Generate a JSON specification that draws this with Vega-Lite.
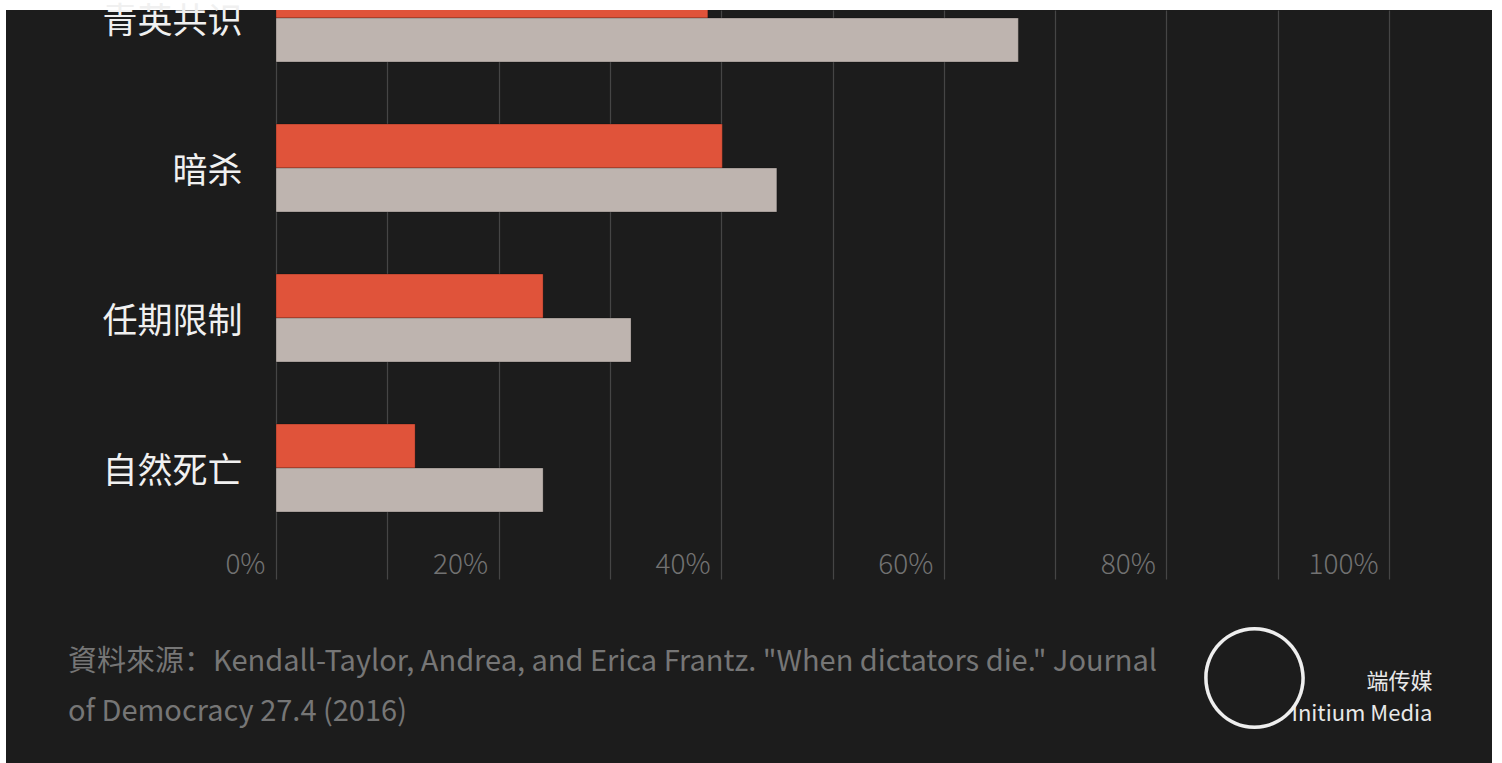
{
  "$schema": "https://vega.github.io/schema/vega-lite/v6.json",
  "width": 1486,
  "height": 753,
  "autosize": {"type": "none"},
  "padding": {"left": 6, "top": 10, "right": 10, "bottom": 0},
  "background": "#ffffff",
  "config": {
    "view": {"fill": "#1c1c1c", "stroke": null},
    "font": "Noto Sans CJK SC"
  },
  "title": {
    "text": ["資料來源：Kendall-Taylor, Andrea, and Erica Frantz. \"When dictators die.\" Journal", "of Democracy 27.4 (2016)"],
    "orient": "top",
    "anchor": "start",
    "frame": "group",
    "baseline": "top",
    "offset": 0,
    "dx": 62,
    "dy": 722,
    "font": "Noto Sans CJK SC",
    "fontSize": 29,
    "fontWeight": "normal",
    "color": "#767676",
    "lineHeight": 50
  },
  "data": {
    "values": [
      {"cause": "青英共识", "series": "A", "pct": 38.8},
      {"cause": "青英共识", "series": "B", "pct": 66.7},
      {"cause": "暗杀", "series": "A", "pct": 40.1},
      {"cause": "暗杀", "series": "B", "pct": 45.0},
      {"cause": "任期限制", "series": "A", "pct": 24.0},
      {"cause": "任期限制", "series": "B", "pct": 31.9},
      {"cause": "自然死亡", "series": "A", "pct": 12.5},
      {"cause": "自然死亡", "series": "B", "pct": 24.0}
    ]
  },
  "mark": {"type": "bar", "clip": true, "strokeWidth": 1, "stroke": "#000000", "strokeOpacity": 0.25},
  "encoding": {
    "y": {
      "field": "cause",
      "type": "nominal",
      "sort": ["青英共识", "暗杀", "任期限制", "自然死亡"],
      "scale": {"range": [-36, 502], "paddingInner": 0.4133, "paddingOuter": 0},
      "axis": {
        "orient": "left",
        "offset": -270,
        "domain": false,
        "ticks": false,
        "grid": false,
        "labelPadding": 34,
        "labelOffset": 4,
        "labelFontSize": 35,
        "labelColor": "#f0f0f0",
        "labelFont": "Noto Sans CJK SC",
        "labelFontWeight": "normal",
        "title": "◯",
        "titleX": 978,
        "titleY": 676,
        "titleAngle": 0,
        "titleAlign": "center",
        "titleBaseline": "middle",
        "titleFont": "Noto Sans CJK SC",
        "titleFontWeight": "normal",
        "titleFontSize": 108,
        "titleColor": "#eeeeee"
      }
    },
    "yOffset": {
      "field": "series",
      "type": "nominal",
      "scale": {"paddingInner": 0, "paddingOuter": 0}
    },
    "x": {
      "field": "pct",
      "type": "quantitative",
      "scale": {"domain": [0, 100], "range": [270, 1383], "nice": false, "zero": true},
      "axis": {
        "orient": "top",
        "values": [0, 10, 20, 30, 40, 50, 60, 70, 80, 90, 100],
        "grid": false,
        "domain": false,
        "ticks": true,
        "tickSize": -569,
        "tickColor": "#454545",
        "tickWidth": 1.2,
        "labelExpr": "datum.value % 20 === 0 ? datum.value + '%' : ''",
        "labelAlign": "right",
        "labelBaseline": "bottom",
        "labelOffset": -11,
        "labelPadding": 0,
        "labelFlush": false,
        "labelOverlap": false,
        "labelBound": false,
        "labelColor": "#727272",
        "labelFont": "Noto Sans CJK SC",
        "labelFontSize": 28,
        "labelFontWeight": 300,
        "title": ["端传媒", "Initium Media"],
        "titleX": 1426,
        "titleY": 661,
        "titleAngle": 0,
        "titleAlign": "right",
        "titleBaseline": "top",
        "titleLineHeight": 32,
        "titleFont": "Noto Sans CJK SC",
        "titleFontSize": 22,
        "titleFontWeight": "normal",
        "titleColor": "#e8e8e8"
      }
    },
    "color": {
      "field": "series",
      "type": "nominal",
      "scale": {"domain": ["A", "B"], "range": ["#e0533a", "#beb4af"]},
      "legend": null
    }
  }
}
